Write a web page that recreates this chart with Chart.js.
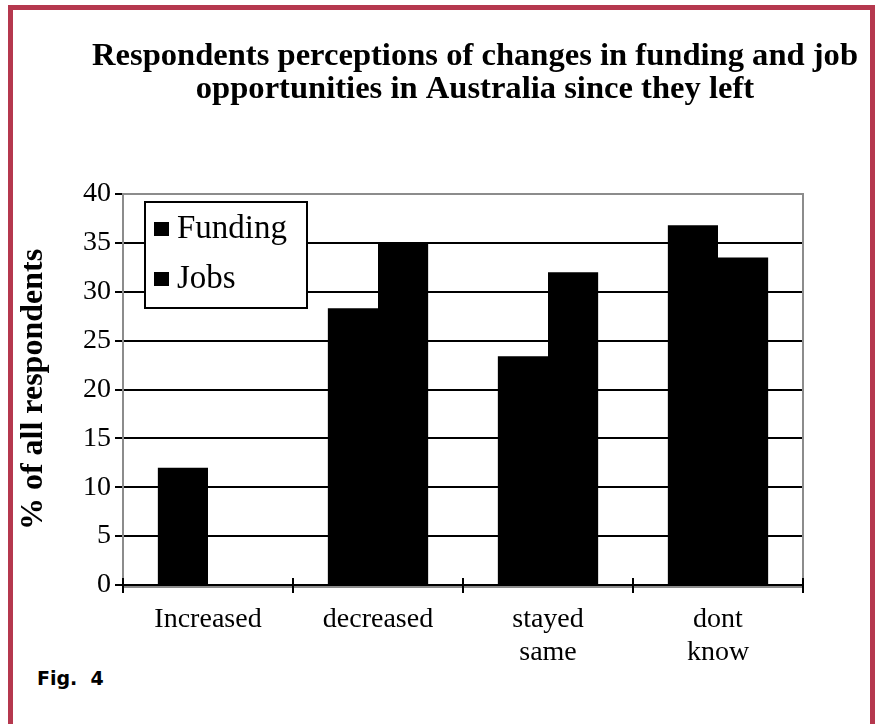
<!DOCTYPE html>
<html>
<head>
<meta charset="utf-8">
<script src="https://cdn.jsdelivr.net/npm/chart.js@4.4.1/dist/chart.umd.min.js"></script>
<style>
  html, body { margin: 0; padding: 0; background: #fff; overflow: hidden; }
  body { width: 875px; height: 724px; position: relative; }
  #frame { position: absolute; left: 8px; top: 5px; width: 857px; height: 800px;
           border: 5px solid #b5384e; border-bottom: none; }
  #fig { position: absolute; left: 37px; top: 667px; font-family: "DejaVu Sans", sans-serif;
         font-weight: bold; font-size: 19px; white-space: pre; color: #000; }
  canvas { position: absolute; left: 0; top: 0; }
</style>
</head>
<body>
<div id="frame"></div>
<div id="fig">Fig.  4</div>
<canvas id="c" width="875" height="724"></canvas>
<script>
// ---- data ----
const titleLines = ['Respondents perceptions of changes in funding and job', 'opportunities in Australia since they left'];
const categories = ['Increased', 'decreased', ['stayed', 'same'], ['dont', 'know']];
const seriesNames = ['Funding', 'Jobs'];
const fundingValues = [12, 28.3, 23.4, 36.8];
const jobsValues = [0, 35, 32, 33.5];
const yTicks = [0, 5, 10, 15, 20, 25, 30, 35, 40];
const yTitle = '% of all respondents';

const SERIF = '"Liberation Serif", "Times New Roman", serif';

const titlePlugin = {
  id: 'titleLines',
  afterDraw(chart) {
    const ctx = chart.ctx, a = chart.chartArea;
    ctx.save();
    ctx.font = 'bold 32.6px ' + SERIF;
    ctx.fillStyle = '#000';
    ctx.textAlign = 'center';
    ctx.textBaseline = 'alphabetic';
    const cx = (a.left + a.right) / 2 + 12;
    titleLines.forEach((t, i) => ctx.fillText(t, cx, 65 + i * 33));
    ctx.restore();
  }
};

const framePlugin = {
  id: 'plotFrame',
  beforeDatasetsDraw(chart) {
    const ctx = chart.ctx, a = chart.chartArea;
    ctx.save();
    ctx.strokeStyle = '#8c8c8c';
    ctx.lineWidth = 2;
    ctx.strokeRect(a.left, a.top, a.right - a.left, a.bottom - a.top + 2);
    ctx.restore();
  },
  afterDraw(chart) {
    const ctx = chart.ctx, a = chart.chartArea, xs = chart.scales.x;
    const n = categories.length;
    ctx.save();
    ctx.strokeStyle = '#000';
    ctx.lineWidth = 2;
    ctx.beginPath();
    ctx.moveTo(a.left - 8, a.bottom); ctx.lineTo(a.right, a.bottom);
    for (let i = 0; i <= n; i++) {
      const x = xs.left + i * (xs.width / n);
      ctx.moveTo(x, a.bottom - 7); ctx.lineTo(x, a.bottom + 8);
    }
    ctx.stroke();
    ctx.restore();
  }
};

const legendPlugin = {
  id: 'boxLegend',
  afterDraw(chart) {
    const ctx = chart.ctx, a = chart.chartArea;
    const x0 = a.left + 22, y0 = a.top + 8, w = 162, h = 106;
    ctx.save();
    ctx.fillStyle = '#fff';
    ctx.fillRect(x0, y0, w, h);
    ctx.strokeStyle = '#000';
    ctx.lineWidth = 2;
    ctx.strokeRect(x0, y0, w, h);
    ctx.font = '33px ' + SERIF;
    ctx.textBaseline = 'alphabetic';
    chart.data.datasets.forEach((ds, i) => {
      const base = y0 + 36 + i * 50;
      ctx.fillStyle = ds.backgroundColor;
      ctx.fillRect(x0 + 9, base - 16, 15, 14);
      ctx.fillStyle = '#000';
      ctx.fillText(ds.label, x0 + 32, base);
    });
    ctx.restore();
  }
};

new Chart(document.getElementById('c'), {
  type: 'bar',
  data: {
    labels: categories,
    datasets: [
      { label: seriesNames[0], data: fundingValues, backgroundColor: '#000', borderWidth: 0 },
      { label: seriesNames[1], data: jobsValues, backgroundColor: '#000', borderWidth: 0 }
    ]
  },
  options: {
    responsive: false,
    animation: false,
    devicePixelRatio: 1,
    layout: { padding: { top: 194, right: 72, left: 0, bottom: 0 } },
    datasets: { bar: { categoryPercentage: 0.59, barPercentage: 1.0 } },
    plugins: {
      legend: { display: false },
      tooltip: { enabled: false },
      title: { display: false }
    },
    scales: {
      x: {
        afterFit(s) { s.height = 139; },
        grid: { display: true, drawOnChartArea: false, drawTicks: false },
        border: { display: false },
        ticks: { color: '#000', font: { family: SERIF, size: 28, lineHeight: 1.15 }, padding: 19, maxRotation: 0 }
      },
      y: {
        min: 0, max: 40,
        afterFit(s) { s.width = 123; },
        afterBuildTicks(s) { s.ticks = yTicks.map(v => ({ value: v })); },
        grid: {
          color: c => (c.tick && c.tick.value === 40) ? 'rgba(0,0,0,0)' : '#000',
          lineWidth: 2,
          drawTicks: true, tickLength: 8, tickColor: '#000', tickWidth: 2
        },
        border: { display: true, color: '#000', width: 2 },
        ticks: { color: '#000', font: { family: SERIF, size: 28 }, padding: 4 },
        title: { display: true, text: yTitle, color: '#000',
                 font: { family: SERIF, size: 32, weight: 'bold', lineHeight: 1.2 },
                 padding: { top: 15, bottom: 0 } }
      }
    }
  },
  plugins: [framePlugin, titlePlugin, legendPlugin]
});
</script>
</body>
</html>
